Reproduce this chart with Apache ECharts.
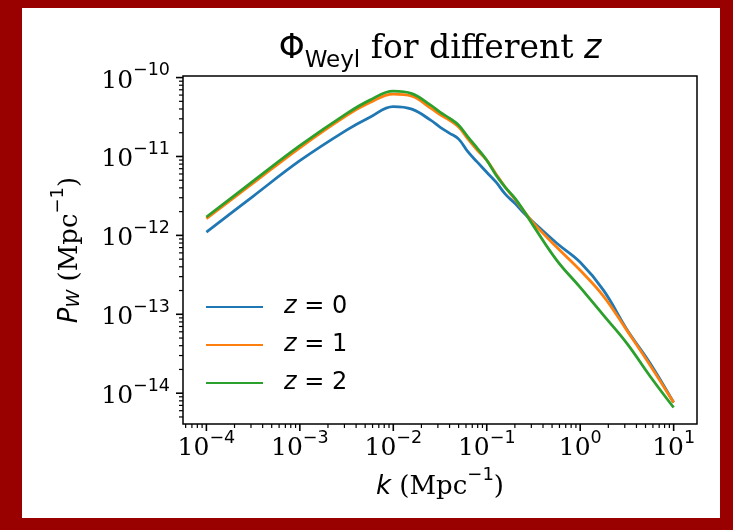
<!DOCTYPE html>
<html>
<head>
    <meta charset="UTF-8">
    <title>Phi_Weyl for different z</title>
    <script src="https://cdn.jsdelivr.net/npm/echarts@6/dist/echarts.min.js"></script>
    <style>
        html, body { margin: 0; padding: 0; background: #990000; }
        #panel { position: absolute; left: 22px; top: 8px; width: 698px; height: 510px; background: #ffffff; }
        #chart { position: absolute; left: 0; top: 0; width: 733px; height: 530px; }
    </style>
</head>
<body>
    <div id="panel"></div>
    <div id="chart"></div>

    <script type="text/javascript">
        // k (Mpc^-1) sample points
        var kValues = [1e-4, 3.16e-4, 1e-3, 3.16e-3, 5.62e-3, 1e-2, 1.58e-2, 2.51e-2, 3.16e-2, 3.98e-2,
            5.01e-2, 6.31e-2, 7.94e-2, 0.1, 0.126, 0.158, 0.2, 0.251, 0.316, 0.562, 1, 1.78, 3.16, 5.62, 10];

        // P_W (Mpc^-1)
        var pZ0 = [1.10e-12, 3.13e-12, 8.85e-12, 2.16e-11, 3.15e-11, 4.29e-11, 3.98e-11, 2.89e-11, 2.36e-11, 1.98e-11,
            1.66e-11, 1.14e-11, 8.47e-12, 6.32e-12, 4.72e-12, 3.33e-12, 2.55e-12, 1.91e-12, 1.47e-12, 7.94e-13,
            4.56e-13, 2.01e-13, 6.43e-14, 2.38e-14, 7.62e-15];
        var pZ1 = [1.63e-12, 4.58e-12, 1.29e-11, 3.30e-11, 4.82e-11, 6.18e-11, 5.82e-11, 4.10e-11, 3.39e-11, 2.89e-11,
            2.36e-11, 1.66e-11, 1.20e-11, 8.97e-12, 5.96e-12, 4.07e-12, 2.87e-12, 2.02e-12, 1.43e-12, 7.06e-13,
            3.61e-13, 1.69e-13, 6.25e-14, 2.25e-14, 7.62e-15];
        var pZ2 = [1.71e-12, 4.86e-12, 1.37e-11, 3.49e-11, 5.18e-11, 6.74e-11, 6.27e-11, 4.48e-11, 3.65e-11, 3.06e-11,
            2.49e-11, 1.76e-11, 1.27e-11, 8.97e-12, 5.79e-12, 4.07e-12, 2.96e-12, 2.02e-12, 1.32e-12, 4.83e-13,
            2.19e-13, 9.68e-14, 4.28e-14, 1.63e-14, 6.59e-15];

        var seriesNames = ['z = 0', 'z = 1', 'z = 2'];
        var seriesColors = ['#1f77b4', '#ff7f0e', '#2ca02c'];

        // axis ranges and tick positions
        var xMin = 5.62e-5, xMax = 17.78;
        var yMin = 4.07e-15, yMax = 1.047e-10;
        var xMajor = [1e-4, 1e-3, 1e-2, 1e-1, 1, 10];
        var yMajor = [1e-14, 1e-13, 1e-12, 1e-11, 1e-10];
        var xDecades = [1e-5, 1e-4, 1e-3, 1e-2, 1e-1, 1, 10];
        var yDecades = [1e-15, 1e-14, 1e-13, 1e-12, 1e-11, 1e-10];
        var minorMult = [2, 3, 4, 5, 6, 7, 8, 9];

        var myChart = echarts.init(document.getElementById('chart'), null, { renderer: 'canvas' });

        function powLabel(v) {
            var e = Math.round(Math.log10(v));
            return '{b|10}{s|' + (e < 0 ? '\u2212' + (-e) : e) + '}';
        }

        // tick marks: [x, y, kind]  kind 0 x-major, 1 x-minor, 2 y-major, 3 y-minor
        var tickData = [];
        xMajor.forEach(function (v) { tickData.push([v, yMin, 0]); });
        yMajor.forEach(function (v) { tickData.push([xMin, v, 2]); });
        xDecades.forEach(function (d) {
            minorMult.forEach(function (m) {
                var v = d * m;
                if (v > xMin && v < xMax) tickData.push([v, yMin, 1]);
            });
        });
        yDecades.forEach(function (d) {
            minorMult.forEach(function (m) {
                var v = d * m;
                if (v > yMin && v < yMax) tickData.push([xMin, v, 3]);
            });
        });

        function renderTick(params, api) {
            var cs = params.coordSys;
            var kind = api.value(2);
            var p = api.coord([api.value(0), api.value(1)]);
            var len = (kind === 0 || kind === 2) ? 7 : 4;
            var w = (kind === 0 || kind === 2) ? 1.6 : 1.2;
            var shape;
            if (kind < 2) {
                var yb = cs.y + cs.height;
                shape = { x1: p[0], y1: yb, x2: p[0], y2: yb + len };
            } else {
                shape = { x1: cs.x - len, y1: p[1], x2: cs.x, y2: p[1] };
            }
            return { type: 'line', shape: shape, style: { stroke: '#000', lineWidth: w } };
        }

        var tickRich = {
            b: { fontFamily: 'DejaVu Serif', fontSize: 25, color: '#000', lineHeight: 32, verticalAlign: 'bottom' },
            s: { fontFamily: 'DejaVu Sans', fontSize: 17.5, color: '#000', lineHeight: 18, verticalAlign: 'top' }
        };
        var nameRich = {
            i: { fontFamily: 'DejaVu Sans', fontStyle: 'italic', fontSize: 26, color: '#000', lineHeight: 34, verticalAlign: 'bottom' },
            r: { fontFamily: 'DejaVu Serif', fontSize: 26, color: '#000', lineHeight: 34, verticalAlign: 'bottom' },
            sub: { fontFamily: 'DejaVu Sans', fontStyle: 'italic', fontSize: 18, color: '#000', lineHeight: 14, verticalAlign: 'bottom' },
            s: { fontFamily: 'DejaVu Sans', fontSize: 18, color: '#000', lineHeight: 18, verticalAlign: 'top' }
        };

        var lineSeries = [pZ0, pZ1, pZ2].map(function (vals, i) {
            return {
                name: seriesNames[i],
                type: 'line',
                data: kValues.map(function (k, j) { return [k, vals[j]]; }),
                symbol: 'none',
                smooth: 0.4,
                lineStyle: { width: 2.8, color: seriesColors[i] },
                itemStyle: { color: seriesColors[i] },
                z: 3 + i
            };
        });

        var option = {
            animation: false,
            backgroundColor: 'transparent',
            title: {
                text: '{phi|\u03A6}{sub|Weyl}{ser| for different }{it|z}',
                left: 440,
                top: 33,
                padding: 0,
                textAlign: 'center',
                textStyle: {
                    fontWeight: 'normal',
                    rich: {
                        phi: { fontFamily: 'DejaVu Sans', fontWeight: 'normal', fontSize: 33, color: '#000', lineHeight: 40, verticalAlign: 'top' },
                        sub: { fontFamily: 'DejaVu Sans', fontWeight: 'normal', fontSize: 23, color: '#000', lineHeight: 27, verticalAlign: 'bottom' },
                        ser: { fontFamily: 'DejaVu Serif', fontWeight: 'normal', fontSize: 33, color: '#000', lineHeight: 40, verticalAlign: 'top' },
                        it: { fontFamily: 'DejaVu Sans', fontWeight: 'normal', fontStyle: 'italic', fontSize: 33, color: '#000', lineHeight: 40, verticalAlign: 'top' }
                    }
                }
            },
            legend: {
                data: seriesNames,
                orient: 'vertical',
                left: 205,
                top: 295,
                padding: 0,
                itemWidth: 57,
                itemHeight: 14,
                itemGap: 14,
                itemStyle: { opacity: 0 },
                formatter: function (name) {
                    return '{i|z}{r|' + name.slice(1) + '}';
                },
                textStyle: {
                    rich: {
                        i: { fontFamily: 'DejaVu Sans', fontStyle: 'italic', fontSize: 24, color: '#000', lineHeight: 27, padding: [0, 0, 0, 16] },
                        r: { fontFamily: 'DejaVu Sans', fontSize: 24, color: '#000', lineHeight: 27 }
                    }
                }
            },
            grid: {
                left: 183,
                top: 76,
                width: 514,
                height: 348,
                show: true,
                borderColor: '#000',
                borderWidth: 1.5,
                backgroundColor: 'transparent'
            },
            xAxis: {
                type: 'log',
                logBase: 10,
                min: xMin,
                max: xMax,
                name: '{i|k}{r| (Mpc}{s|\u22121}{r|)}',
                nameLocation: 'middle',
                nameGap: 21,
                nameTextStyle: { rich: nameRich },
                axisLine: { show: false },
                axisTick: { show: false },
                splitLine: { show: false },
                minorTick: { show: false },
                axisLabel: {
                    margin: 5,
                    showMinLabel: false,
                    showMaxLabel: false,
                    formatter: powLabel,
                    rich: tickRich
                }
            },
            yAxis: {
                type: 'log',
                logBase: 10,
                min: yMin,
                max: yMax,
                name: '{i|P}{sub|W}{r| (Mpc}{s|\u22121}{r|)}',
                nameLocation: 'middle',
                nameGap: 100,
                nameTextStyle: { rich: nameRich },
                axisLine: { show: false },
                axisTick: { show: false },
                splitLine: { show: false },
                minorTick: { show: false },
                axisLabel: {
                    margin: 13,
                    showMinLabel: false,
                    showMaxLabel: false,
                    formatter: powLabel,
                    rich: tickRich
                }
            },
            series: lineSeries.concat([{
                name: 'ticks',
                type: 'custom',
                silent: true,
                clip: false,
                renderItem: renderTick,
                data: tickData,
                z: 10
            }])
        };

        myChart.setOption(option);
    </script>
</body>
</html>
